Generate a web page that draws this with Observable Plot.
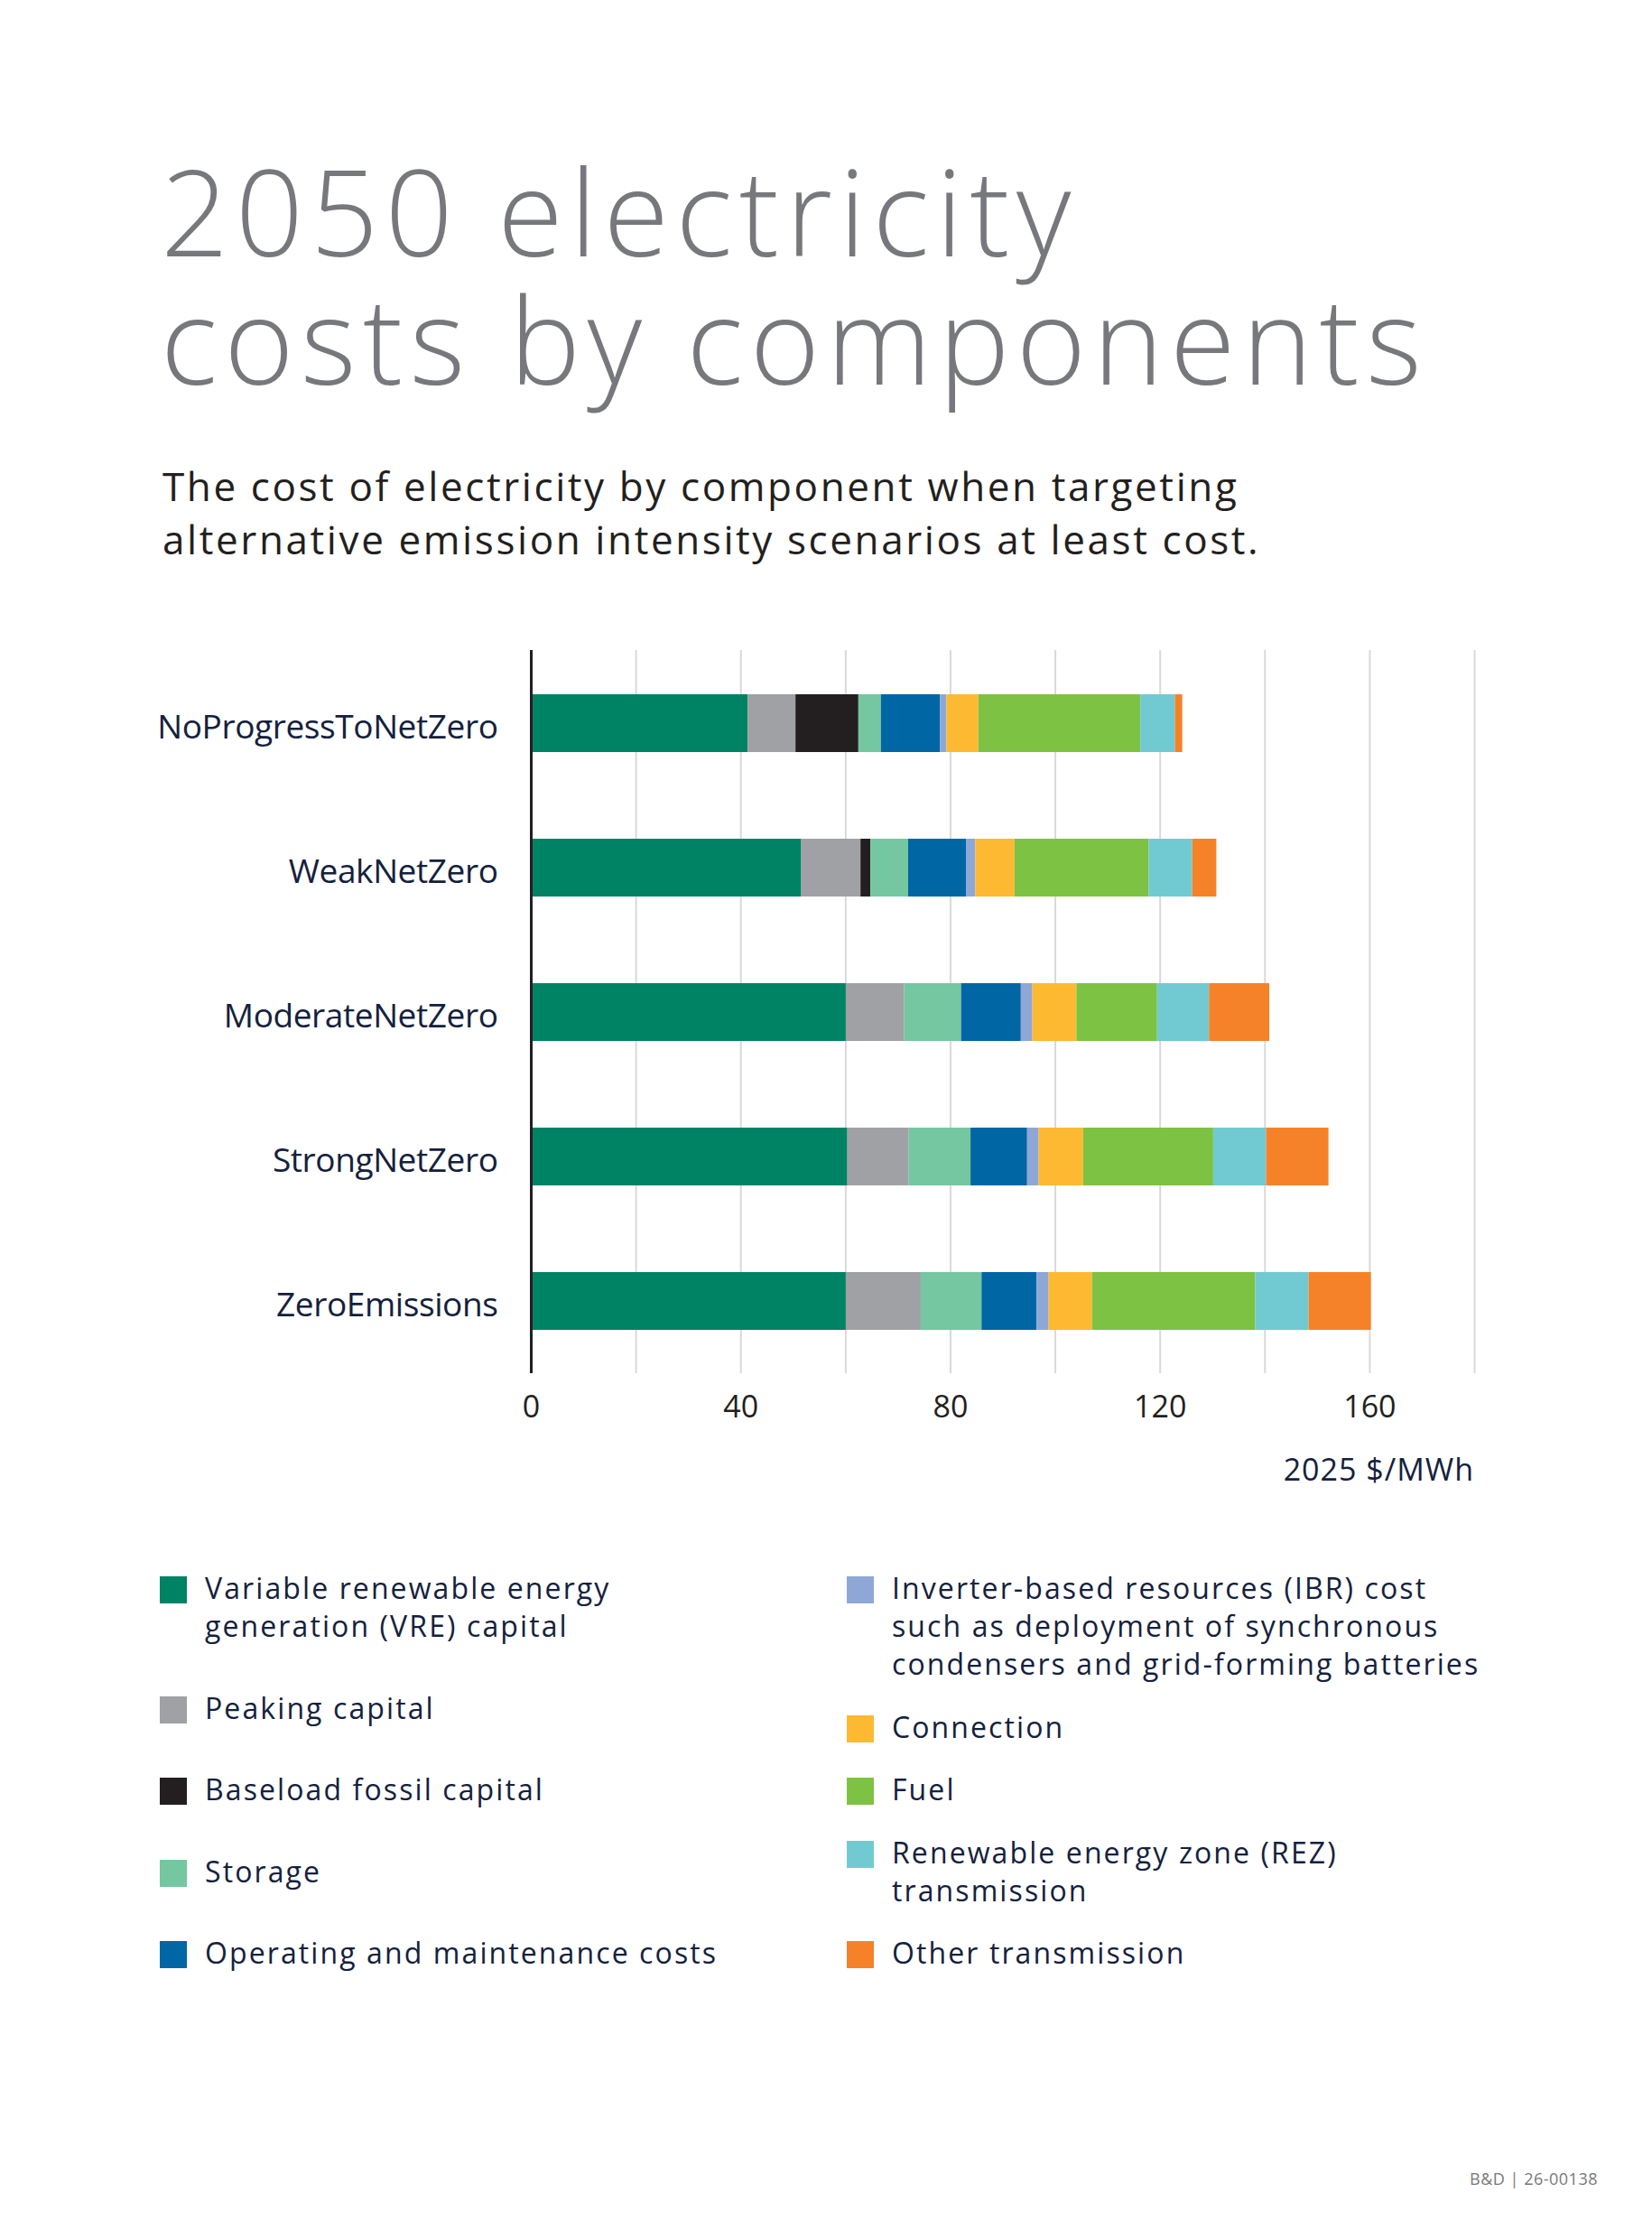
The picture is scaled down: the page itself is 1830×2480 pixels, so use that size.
<!DOCTYPE html>
<html>
<head>
<meta charset="utf-8">
<script src="https://cdn.jsdelivr.net/npm/d3@7"></script>
<script src="https://cdn.jsdelivr.net/npm/@observablehq/plot@0.6"></script>
<style>
  html, body { margin: 0; padding: 0; background: #fff; }
  body { width: 1830px; height: 2480px; position: relative; font-family: "Open Sans", "Noto Sans", sans-serif; }
  .title { position: absolute; left: 178px; font-size: 132px; line-height: 142px; height: 142px; font-weight: 300; color: #77787b; white-space: nowrap; letter-spacing: 7.5px; }
  .subtitle { position: absolute; left: 180px; font-size: 44px; line-height: 59px; height: 59px; color: #231f20; white-space: nowrap; letter-spacing: 2.6px; }
  #chart { position: absolute; left: 0; top: 700px; }
  #unit { position: absolute; right: 197px; top: 1604px; font-size: 34px; color: #14213d; letter-spacing: 1px; white-space: nowrap; }
  .legend-col { position: absolute; top: 1738px; height: 446px; display: flex; flex-direction: column; justify-content: space-between; }
  .item { display: flex; align-items: flex-start; }
  .sw { width: 30px; height: 30px; margin-top: 8px; flex: none; }
  .lt { margin-left: 20px; font-size: 32px; line-height: 42px; color: #14213d; letter-spacing: 2.1px; white-space: nowrap; }
  #footer { position: absolute; right: 60px; top: 2401px; font-size: 18px; color: #77787b; letter-spacing: 0.5px; }
  .ylab text { letter-spacing: -0.4px; }
</style>
</head>
<body>
<div class="title" style="top:162px">2050 electricity</div>
<div class="title" style="top:304px">costs by components</div>
<div class="subtitle" style="top:509px">The cost of electricity by component when targeting</div>
<div class="subtitle" style="top:568px">alternative emission intensity scenarios at least cost.</div>
<div id="chart"></div>
<div id="unit">2025 $/MWh</div>
<div id="legendLeft" class="legend-col" style="left:177px"></div>
<div id="legendRight" class="legend-col" style="left:938px"></div>
<div id="footer">B&amp;D | 26-00138</div>
<script>
const scenarios = ["NoProgressToNetZero", "WeakNetZero", "ModerateNetZero", "StrongNetZero", "ZeroEmissions"];
const components = [
  "Variable renewable energy generation (VRE) capital",
  "Peaking capital",
  "Baseload fossil capital",
  "Storage",
  "Operating and maintenance costs",
  "Inverter-based resources (IBR) cost such as deployment of synchronous condensers and grid-forming batteries",
  "Connection",
  "Fuel",
  "Renewable energy zone (REZ) transmission",
  "Other transmission"
];
// values per component, in scenario order ($/MWh, 2025)
const vre        = [41.4, 51.6, 60.1, 60.4, 60.1];
const peaking    = [9.1, 11.3, 11.1, 11.7, 14.3];
const baseload   = [12.0, 1.9, 0, 0, 0];
const storage    = [4.3, 7.2, 10.9, 11.8, 11.6];
const om         = [11.3, 11.1, 11.4, 10.8, 10.5];
const ibr        = [1.2, 1.7, 2.2, 2.2, 2.3];
const connection = [6.1, 7.5, 8.4, 8.5, 8.3];
const fuel       = [30.9, 25.6, 15.4, 24.8, 31.1];
const rez        = [6.6, 8.3, 9.9, 10.1, 10.2];
const otherTx    = [1.4, 4.6, 11.5, 11.9, 11.9];
const xTicks = [0, 40, 80, 120, 160];
const gridTicks = [0, 20, 40, 60, 80, 100, 120, 140, 160, 180];

const colors = ["#008264", "#a0a1a4", "#231f20", "#74c7a1", "#0066a4", "#8fa7d6", "#fdb932", "#7dc242", "#71cad2", "#f58229"];
const legendLines = [
  ["Variable renewable energy", "generation (VRE) capital"],
  ["Peaking capital"],
  ["Baseload fossil capital"],
  ["Storage"],
  ["Operating and maintenance costs"],
  ["Inverter-based resources (IBR) cost", "such as deployment of synchronous", "condensers and grid-forming batteries"],
  ["Connection"],
  ["Fuel"],
  ["Renewable energy zone (REZ)", "transmission"],
  ["Other transmission"]
];

const series = [vre, peaking, baseload, storage, om, ibr, connection, fuel, rez, otherTx];
const rows = [];
scenarios.forEach((s, i) => {
  components.forEach((c, j) => rows.push({scenario: s, component: c, value: series[j][i]}));
});

const chart = Plot.plot({
  width: 1830,
  height: 960,
  marginTop: 20,
  marginBottom: 139,
  marginLeft: 588,
  marginRight: 197,
  style: {fontFamily: "'Open Sans', 'Noto Sans', sans-serif", background: "#fff", color: "#14213d", overflow: "visible"},
  x: {domain: [0, 180]},
  y: {domain: scenarios, paddingInner: 0.6, paddingOuter: 0.3},
  color: {domain: components, range: colors},
  marks: [
    Plot.gridX(gridTicks, {stroke: "#d9d9d9", strokeOpacity: 1, strokeWidth: 2}),
    Plot.barX(rows, {x: "value", y: "scenario", fill: "component", order: null}),
    Plot.ruleX([0], {stroke: "#231f20", strokeWidth: 3}),
    Plot.axisX({ticks: xTicks, tickSize: 0, tickPadding: 24, fontSize: 34, label: null, fill: "#231f20"}),
    Plot.axisY({tickSize: 0, tickPadding: 37, fontSize: 37, label: null, fill: "#14213d", className: "ylab", dy: 5})
  ]
});
document.getElementById("chart").appendChild(chart);

function legendItem(i) {
  const d = document.createElement("div");
  d.className = "item";
  const sw = document.createElement("div");
  sw.className = "sw";
  sw.style.background = colors[i];
  const t = document.createElement("div");
  t.className = "lt";
  t.innerHTML = legendLines[i].join("<br>");
  d.appendChild(sw); d.appendChild(t);
  return d;
}
const L = document.getElementById("legendLeft"), R = document.getElementById("legendRight");
components.forEach((c, i) => (i < 5 ? L : R).appendChild(legendItem(i)));
</script>
</body>
</html>
